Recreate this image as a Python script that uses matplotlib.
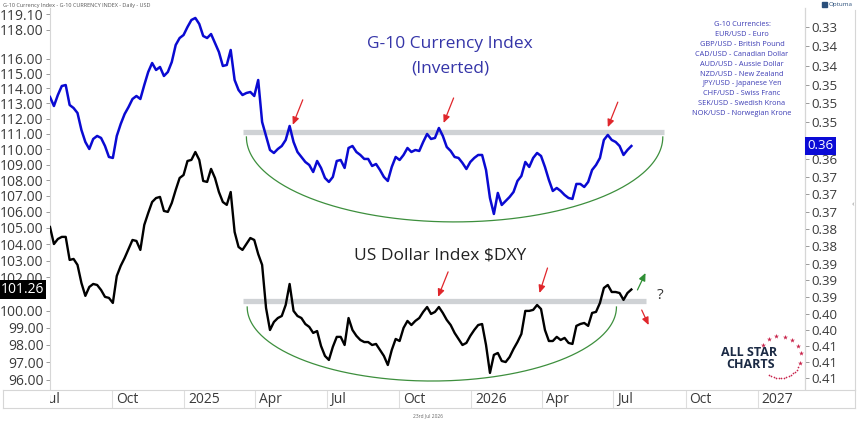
import numpy as np
import pandas as pd
import matplotlib
matplotlib.use("Agg")
import matplotlib.pyplot as plt
import matplotlib.dates as mdates
from matplotlib.ticker import FixedLocator, FixedFormatter, FormatStrFormatter, NullLocator, NullFormatter
from matplotlib.transforms import Bbox, TransformedBbox, blended_transform_factory, offset_copy

plt.rcParams['font.family'] = ['Open Sans', 'DejaVu Sans']

W, H = 860, 423

dates = pd.date_range('2024-07-14', periods=149, freq='5D')

dxy = [105.06, 104.01, 104.32, 104.45, 104.45, 103.04, 103.10, 102.74, 101.65, 100.88,
       101.41, 101.59, 101.53, 101.23, 100.82, 100.76, 100.46, 102.07, 102.68, 103.16,
       103.71, 104.26, 104.20, 103.65, 105.19, 105.93, 106.62, 106.87, 106.94, 106.06,
       106.00, 106.56, 107.38, 108.14, 108.33, 109.23, 109.30, 109.81, 109.30, 107.95,
       107.89, 108.72, 108.14, 107.25, 106.62, 106.44, 107.25, 104.75, 103.83, 103.65,
       104.01, 104.38, 104.26, 103.40, 102.74, 100.16, 98.87, 99.34, 99.57, 99.69,
       100.34, 101.59, 99.99, 99.69, 99.57, 99.22, 99.05, 98.70, 98.81, 97.94,
       97.37, 97.14, 97.89, 98.47, 98.47, 98.00, 99.57, 98.87, 98.53, 98.29,
       98.17, 98.17, 98.00, 98.06, 97.71, 97.37, 96.85, 97.71, 98.35, 98.23,
       98.99, 99.40, 99.16, 99.40, 99.57, 99.93, 100.22, 99.81, 99.93, 100.22,
       99.87, 99.46, 99.16, 98.70, 98.35, 98.00, 98.12, 98.53, 98.87, 99.16,
       99.22, 98.00, 96.40, 97.43, 97.54, 97.08, 97.02, 97.31, 97.77, 98.17,
       98.64, 99.99, 99.99, 100.05, 100.34, 100.10, 98.87, 98.23, 98.23, 98.47,
       98.29, 98.41, 98.12, 98.06, 99.11, 99.22, 99.28, 99.11, 99.87, 99.93,
       100.46, 101.35, 101.53, 101.11, 101.11, 101.05, 100.64, 101.05, 101.26]

# G-10 index, inverted scale (right axis)
g10_inv = [0.34861, 0.35054, 0.34819, 0.34628, 0.34607, 0.35032, 0.35097, 0.35204, 0.35572, 0.35834,
           0.35988, 0.35768, 0.35702, 0.35746, 0.35922, 0.36164, 0.36186, 0.35702, 0.35442, 0.35226,
           0.35075, 0.34904, 0.34840, 0.34904, 0.34607, 0.34332, 0.34144, 0.34290, 0.34227, 0.34416,
           0.34332, 0.34123, 0.33770, 0.33626, 0.33564, 0.33400, 0.33257, 0.33216, 0.33339, 0.33584,
           0.33626, 0.33544, 0.33729, 0.33915, 0.34206, 0.34185, 0.33873, 0.34501, 0.34713, 0.34819,
           0.34776, 0.34755, 0.34840, 0.34501, 0.35399, 0.35702, 0.36010, 0.36076, 0.35988, 0.35922,
           0.35790, 0.35485, 0.35834, 0.36054, 0.36164, 0.36275, 0.36342, 0.36498, 0.36253, 0.36408,
           0.36632, 0.36721, 0.36609, 0.36253, 0.36231, 0.36408, 0.35966, 0.35922, 0.36054, 0.36120,
           0.36208, 0.36208, 0.36364, 0.36320, 0.36453, 0.36609, 0.36699, 0.36386, 0.36164, 0.36231,
           0.36120, 0.35966, 0.36054, 0.36010, 0.36032, 0.35834, 0.35659, 0.35768, 0.35746, 0.35529,
           0.35702, 0.35944, 0.36032, 0.36164, 0.36186, 0.36297, 0.36431, 0.36275, 0.36186, 0.36120,
           0.36120, 0.36453, 0.37083, 0.37447, 0.36969, 0.37242, 0.37151, 0.37060, 0.36947, 0.36699,
           0.36587, 0.36275, 0.36386, 0.36186, 0.36076, 0.36142, 0.36386, 0.36676, 0.36924, 0.36857,
           0.36924, 0.37015, 0.37083, 0.37105, 0.36766, 0.36766, 0.36834, 0.36721, 0.36453, 0.36342,
           0.36186, 0.35790, 0.35680, 0.35790, 0.35834, 0.35922, 0.36120, 0.36010, 0.35922]

res_dxy = 100.58     # grey resistance lines
res_g10 = 0.3562

left_ticks = [96, 97, 98, 99, 100, 102, 103, 104, 105, 106, 107, 108, 109, 110,
              111, 112, 113, 114, 115, 116, 118, 119.10]
right_ticks = [0.334, 0.338, 0.342, 0.346, 0.350, 0.354, 0.358, 0.362, 0.366, 0.370, 0.374,
               0.378, 0.382, 0.386, 0.390, 0.394, 0.398, 0.402, 0.406, 0.410, 0.414]
# the 0.358 label sits under the last-value box
right_labels = ['' if t == 0.358 else f'{t:.2f}' for t in right_ticks]

quarter_dates = ['2024-07-01', '2024-10-01', '2025-01-01', '2025-04-01', '2025-07-01', '2025-10-01',
                 '2026-01-01', '2026-04-01', '2026-07-01', '2026-10-01', '2027-01-01']
quarter_labels = ['Jul', 'Oct', '2025', 'Apr', 'Jul', 'Oct', '2026', 'Apr', 'Jul', 'Oct', '2027']

currencies = ['G-10 Currencies:', 'EUR/USD - Euro', 'GBP/USD - British Pound',
              'CAD/USD - Canadian Dollar', 'AUD/USD - Aussie Dollar', 'NZD/USD - New Zealand',
              'JPY/USD - Japanese Yen', 'CHF/USD - Swiss Franc', 'SEK/USD - Swedish Krona',
              'NOK/USD - Norwegian Krone']

BLUE = '#0a0ad2'
TXTBLUE = '#3535a8'
RED = '#e0262b'
GREEN = '#2f8f35'
ARC = '#3d8f3d'
BAND = '#cfd2d5'
SPINE = '#d6d6d6'


def px_box(x0, y0, x1, y1):
    return [x0 / W, 1 - y1 / H, (x1 - x0) / W, (y1 - y0) / H]


def dnum(s):
    return mdates.date2num(pd.Timestamp(s))


fig = plt.figure(figsize=(W / 100, H / 100), dpi=100)
fig.patch.set_facecolor('white')

ax = fig.add_axes(px_box(50, 8, 805, 389))
ax.plot(dates, dxy, color='black', lw=1.7, zorder=3)
x0, x1 = dnum('2024-07-14'), dnum('2027-03-02')
ax.set_xlim(x0, x1)
ax.set_yscale('log')
ax.set_ylim(95.49, 119.54)

ax2 = ax.twinx()
ax2.plot(dates, g10_inv, color=BLUE, lw=1.8, zorder=3)
ax2.set_yscale('log')
ax2.set_ylim(0.4168, 0.33014)
ax2.set_xlim(x0, x1)

ax.yaxis.set_major_locator(FixedLocator(left_ticks))
ax.yaxis.set_major_formatter(FormatStrFormatter('%.2f'))
ax2.yaxis.set_major_locator(FixedLocator(right_ticks))
ax2.yaxis.set_major_formatter(FixedFormatter(right_labels))
for a, side in ((ax, 'left'), (ax2, 'right')):
    a.yaxis.set_minor_locator(NullLocator())
    a.yaxis.set_minor_formatter(NullFormatter())
    a.tick_params(axis='y', which='major', length=3, width=0.6, color='#8a8a8a',
                  labelsize=10 if side == 'left' else 9.5, labelcolor='#3a3a3a', pad=1.5)
    a.tick_params(axis='x', which='both', bottom=False, labelbottom=False)
    for s in a.spines.values():
        s.set_color(SPINE)
        s.set_linewidth(0.8)
    a.spines['top'].set_visible(False)
    a.spines['bottom'].set_visible(False)
ax2.spines['left'].set_visible(False)

# resistance lines
ax.plot([dnum('2025-03-17'), dnum('2026-08-12')], [res_dxy, res_dxy], color=BAND, lw=3.8,
        solid_capstyle='butt', zorder=1)
ax2.plot([dnum('2025-03-17'), dnum('2026-09-04')], [res_g10, res_g10], color=BAND, lw=3.8,
         solid_capstyle='butt', zorder=1)


def draw_arc(axis, d0, d1, top, bottom):
    p0 = axis.transData.transform((dnum(d0), top))
    p1 = axis.transData.transform((dnum(d1), top))
    pb = axis.transData.transform((dnum(d0), bottom))
    cx, a = (p0[0] + p1[0]) / 2, (p1[0] - p0[0]) / 2
    cy, b = p0[1], p0[1] - pb[1]
    t = np.linspace(np.pi, 2 * np.pi, 200)
    pts = np.column_stack([cx + a * np.cos(t), cy + b * np.sin(t)])
    d = axis.transData.inverted().transform(pts)
    axis.plot(d[:, 0], d[:, 1], color=ARC, lw=0.9, zorder=2)


draw_arc(ax2, '2025-03-21', '2026-09-02', 0.35724, 0.3763)
draw_arc(ax, '2025-03-22', '2026-07-05', 100.22, 95.94)


def arrow(axis, d, val, dx, dy, color):
    axis.annotate('', xy=(dnum(d), val), xytext=(dx, dy), textcoords='offset points',
                  arrowprops=dict(arrowstyle='-|>,head_length=0.45,head_width=0.2', color=color,
                                  lw=0.9, shrinkA=0, shrinkB=0), zorder=4)


arrow(ax2, '2025-05-19', 0.3546, 7.2, 18, RED)
arrow(ax2, '2025-11-27', 0.3542, 7.2, 18, RED)
arrow(ax2, '2026-06-24', 0.3551, 7.2, 18, RED)
arrow(ax, '2025-11-20', 100.82, 7.2, 18, RED)
arrow(ax, '2026-03-29', 101.05, 5.8, 18, RED)
arrow(ax, '2026-08-11', 102.25, -5.8, -12.2, GREEN)
arrow(ax, '2026-08-15', 99.16, -5.0, 10.8, RED)
ax.text(dnum('2026-08-29'), 100.93, '?', fontsize=11, color='#333333', ha='center', va='center')

ax.text(0.53, 0.905, 'G-10 Currency Index', transform=ax.transAxes, ha='center', va='center',
        fontsize=12.5, color=TXTBLUE)
ax.text(0.53, 0.8425, '(Inverted)', transform=ax.transAxes, ha='center', va='center',
        fontsize=12.5, color=TXTBLUE)
ax.text(0.5166, 0.3517, 'US Dollar Index $DXY', transform=ax.transAxes, ha='center', va='center',
        fontsize=12.5, color='#222222')

# last value boxes
ax.text(-0.008, dxy[-1], f'{dxy[-1]:.2f}', transform=blended_transform_factory(ax.transAxes, ax.transData),
        ha='right', va='center', fontsize=10, color='white', clip_on=False, zorder=6,
        bbox=dict(boxstyle='square,pad=0.15', fc='black', ec='none'))
ax2.text(1.003, g10_inv[-1], f'{g10_inv[-1]:.2f}',
         transform=blended_transform_factory(ax2.transAxes, ax2.transData),
         ha='left', va='center', fontsize=9.5, color='white', clip_on=False, zorder=6,
         bbox=dict(boxstyle='square,pad=0.2', fc='#0b0bd6', ec='none'))

# date band
axb = fig.add_axes(px_box(3, 390, 855, 408))
ppd = 755 / (x1 - x0)
axb.set_xlim(x0 - 47 / ppd, x1 + 50 / ppd)
axb.set_ylim(0, 1)
axb.set_xticks([])
axb.set_yticks([])
for s in axb.spines.values():
    s.set_color(SPINE)
    s.set_linewidth(0.8)
clip = TransformedBbox(Bbox.from_extents(50 / W, 0, 855 / W, 1), fig.transFigure)
lab_tr = offset_copy(axb.transData, fig=fig, x=4, units='dots')
for d, lab in zip(quarter_dates, quarter_labels):
    xd = dnum(d)
    if xd > x0:
        axb.axvline(xd, color='#dedede', lw=0.8)
    t = axb.text(xd, 0.47, lab, transform=lab_tr, ha='left', va='center', fontsize=10, color='#3a3a3a')
    t.set_clip_box(clip)
    t.set_clip_on(True)

# overlay for page furniture, in pixel units
axo = fig.add_axes([0, 0, 1, 1])
axo.set_xlim(0, W)
axo.set_ylim(H, 0)
axo.axis('off')
axo.text(3, 5, 'G-10 Currency Index - G-10 CURRENCY INDEX - Daily - USD', fontsize=4, color='#555555',
         ha='left', va='center')
axo.add_patch(plt.Rectangle((822, 2), 5, 5, color='#2a4f7a'))
axo.text(829, 4.5, 'Optuma', fontsize=4.5, color='#2a4f7a', ha='left', va='center')
axo.plot([855, 855], [10, 390], color=SPINE, lw=0.8)
axo.text(853, 205, '‹', fontsize=6, color='#888888', ha='center', va='center')
axo.text(428, 416, '23rd Jul 2026', fontsize=3.5, color='#666666', ha='center', va='center')
for i, line in enumerate(currencies):
    axo.text(742, 25 + i * 9.8, line, fontsize=5.3, color='#3d3db5', ha='center', va='center')

# All Star Charts logo
cx, cy, r = 780, 357, 21
star_ang = np.radians([145, 122, 100, 76, 54, 32, 10, -16])
axo.scatter(cx + r * np.cos(star_ang), cy - r * np.sin(star_ang), marker='*', s=14, color='#c8234a',
            linewidths=0)
dot_ang = np.radians(np.arange(-30, -125, -7))
axo.scatter(cx + r * np.cos(dot_ang), cy - r * np.sin(dot_ang), marker='o', s=1.5, color='#c8234a',
            linewidths=0)
axo.text(749, 352, 'ALL STAR', fontsize=9, fontweight='bold', color='#1b2a44', ha='center', va='center')
axo.text(751, 364, 'CHARTS', fontsize=9, fontweight='bold', color='#1b2a44', ha='center', va='center')

fig.savefig('out.png', dpi=100, facecolor='white')
